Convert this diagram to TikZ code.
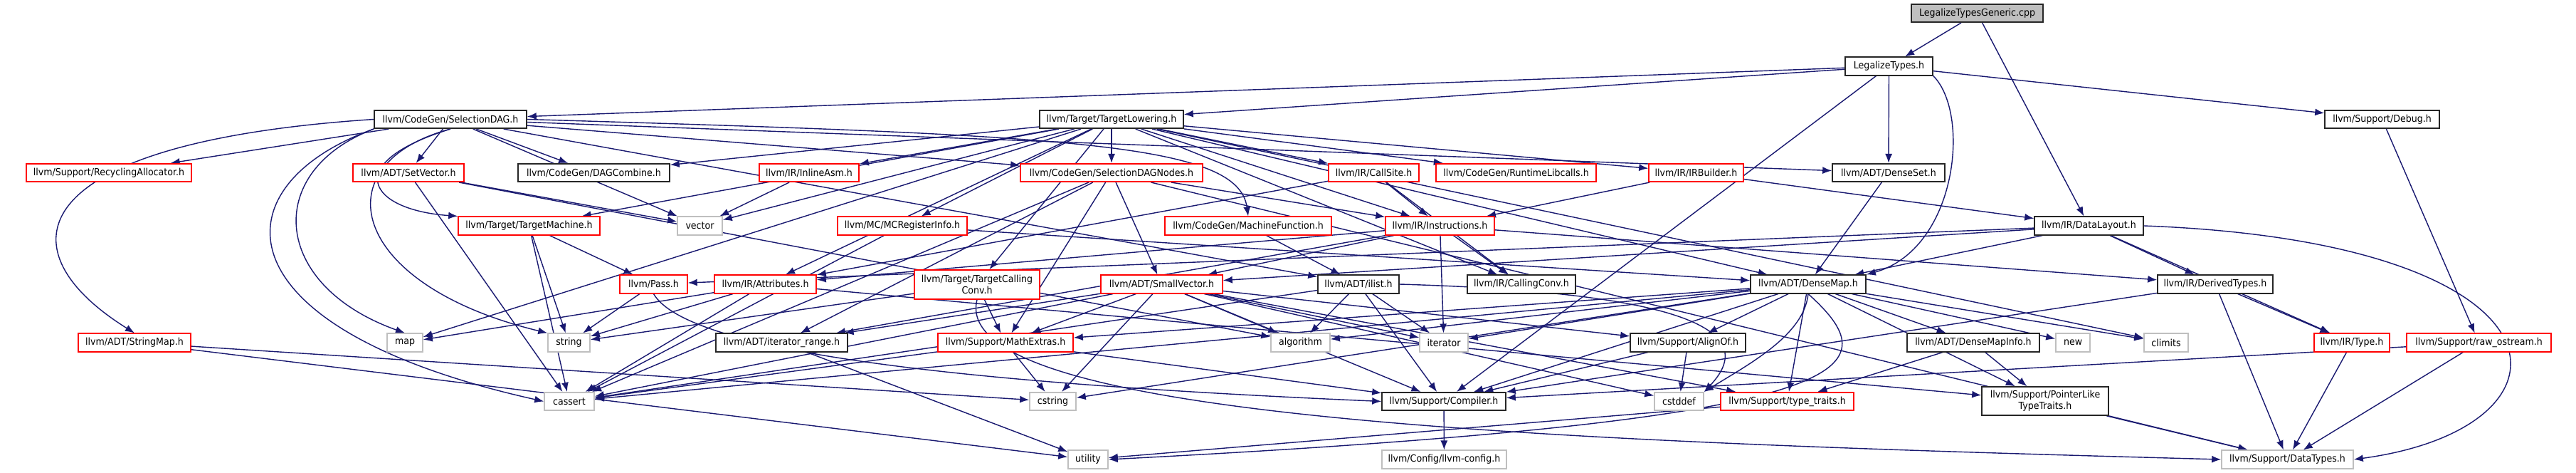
\documentclass[tikz,border=0pt]{standalone}
\usepackage{fontspec}
\setmainfont{DejaVu Sans}[FakeStretch=0.92]
\usepackage{tikz}
\usetikzlibrary{arrows.meta}
\definecolor{midnight}{HTML}{191970}
\definecolor{grey75}{HTML}{BFBFBF}
\pgfdeclarelayer{bg}
\pgfsetlayers{bg,main}

\begin{document}
\begin{tikzpicture}[
    file/.style={draw=black!85, fill=white, line width=0.45pt, minimum height=0.255cm,
      inner xsep=0.04cm, inner ysep=0pt, align=center, font=\fontsize{3.9}{4.5}\selectfont},
    trunc/.style={file, draw=red},
    ext/.style={file, draw=grey75},
    dep/.style={draw=midnight, line width=0.4pt, -{Latex[length=0.13cm,width=0.1cm]}}
  ]
    \useasboundingbox (0,0) rectangle (36.2,-6.64);
    % top rows
    \node[file, fill=grey75, minimum width=1.85cm] (cpp) at (27.785,-0.185) {LegalizeTypesGeneric.cpp};
    \node[file, minimum width=1.23cm] (LT) at (26.545,-0.93) {LegalizeTypes.h};
    \node[file, minimum width=2.14cm] (SDAG) at (6.33,-1.675) {llvm/CodeGen/SelectionDAG.h};
    \node[file, minimum width=2.02cm] (TLow) at (15.62,-1.675) {llvm/Target/TargetLowering.h};
    \node[file, minimum width=1.61cm] (Debug) at (33.475,-1.675) {llvm/Support/Debug.h};
    \node[trunc, minimum width=2.32cm] (RecAlloc) at (1.53,-2.425) {llvm/Support/RecyclingAllocator.h};
    \node[trunc, minimum width=1.56cm] (SetVec) at (5.74,-2.425) {llvm/ADT/SetVector.h};
    \node[file, minimum width=2.13cm] (DAGComb) at (8.345,-2.425) {llvm/CodeGen/DAGCombine.h};
    \node[trunc, minimum width=1.40cm] (InlineAsm) at (11.37,-2.425) {llvm/IR/InlineAsm.h};
    \node[trunc, minimum width=2.56cm] (SDNodes) at (15.62,-2.425) {llvm/CodeGen/SelectionDAGNodes.h};
    \node[trunc, minimum width=1.27cm] (CallSite) at (19.305,-2.425) {llvm/IR/CallSite.h};
    \node[trunc, minimum width=2.25cm] (RTLib) at (21.305,-2.425) {llvm/CodeGen/RuntimeLibcalls.h};
    \node[trunc, minimum width=1.33cm] (IRB) at (23.835,-2.425) {llvm/IR/IRBuilder.h};
    \node[file, minimum width=1.58cm] (DSet) at (26.54,-2.425) {llvm/ADT/DenseSet.h};
    \node[trunc, minimum width=1.99cm] (TMach) at (7.435,-3.17) {llvm/Target/TargetMachine.h};
    \node[ext, minimum width=0.63cm] (vector) at (9.835,-3.17) {vector};
    \node[trunc, minimum width=1.82cm] (MCReg) at (12.68,-3.17) {llvm/MC/MCRegisterInfo.h};
    \node[trunc, minimum width=2.34cm] (MFunc) at (17.54,-3.17) {llvm/CodeGen/MachineFunction.h};
    \node[trunc, minimum width=1.53cm] (Instr) at (20.235,-3.17) {llvm/IR/Instructions.h};
    \node[file, minimum width=1.53cm] (DL) at (29.355,-3.17) {llvm/IR/DataLayout.h};
    % middle rows
    \node[trunc, minimum width=0.95cm] (Pass) at (9.185,-3.99) {llvm/Pass.h};
    \node[trunc, minimum width=1.43cm] (Attr) at (10.755,-3.99) {llvm/IR/Attributes.h};
    \node[trunc, minimum width=1.76cm, minimum height=0.41cm] (TCC) at (13.73,-3.995) {llvm/Target/TargetCalling\\Conv.h};
    \node[trunc, minimum width=1.71cm] (SmallVec) at (16.325,-3.99) {llvm/ADT/SmallVector.h};
    \node[file, minimum width=1.14cm] (ilist) at (19.09,-3.99) {llvm/ADT/ilist.h};
    \node[file, minimum width=1.52cm] (CallConv) at (21.38,-3.99) {llvm/IR/CallingConv.h};
    \node[file, minimum width=1.62cm] (DMap) at (25.41,-3.99) {llvm/ADT/DenseMap.h};
    \node[file, minimum width=1.62cm] (DerivedTypes) at (31.13,-3.99) {llvm/IR/DerivedTypes.h};
    \node[trunc, minimum width=1.58cm] (StrMap) at (1.89,-4.81) {llvm/ADT/StringMap.h};
    \node[ext, minimum width=0.50cm] (map) at (5.69,-4.81) {map};
    \node[ext, minimum width=0.59cm] (string) at (7.995,-4.81) {string};
    \node[file, minimum width=1.85cm] (iterRange) at (10.985,-4.81) {llvm/ADT/iterator\_range.h};
    \node[trunc, minimum width=1.90cm] (MathExtras) at (14.13,-4.81) {llvm/Support/MathExtras.h};
    \node[ext, minimum width=0.83cm] (algorithm) at (18.275,-4.81) {algorithm};
    \node[ext, minimum width=0.68cm] (iterator) at (20.29,-4.81) {iterator};
    \node[file, minimum width=1.62cm] (AlignOf) at (23.72,-4.81) {llvm/Support/AlignOf.h};
    \node[file, minimum width=1.86cm] (DMapInfo) at (27.73,-4.81) {llvm/ADT/DenseMapInfo.h};
    \node[ext, minimum width=0.48cm] (new) at (29.13,-4.81) {new};
    \node[ext, minimum width=0.62cm] (climits) at (30.44,-4.81) {climits};
    \node[trunc, minimum width=1.06cm] (TypeH) at (33.05,-4.81) {llvm/IR/Type.h};
    \node[trunc, minimum width=2.03cm] (rawOS) at (34.835,-4.81) {llvm/Support/raw\_ostream.h};
    % bottom rows
    \node[ext, minimum width=0.70cm] (cassert) at (8.00,-5.635) {cassert};
    \node[ext, minimum width=0.65cm] (cstring) at (14.795,-5.635) {cstring};
    \node[file, minimum width=1.74cm] (Compiler) at (20.29,-5.635) {llvm/Support/Compiler.h};
    \node[ext, minimum width=0.69cm] (cstddef) at (23.595,-5.635) {cstddef};
    \node[trunc, minimum width=1.87cm] (typeTraits) at (25.115,-5.635) {llvm/Support/type\_traits.h};
    \node[file, minimum width=1.78cm, minimum height=0.40cm] (PtrLike) at (28.74,-5.63) {llvm/Support/PointerLike\\TypeTraits.h};
    \node[ext, minimum width=0.56cm] (utility) at (15.29,-6.45) {utility};
    \node[ext, minimum width=1.75cm] (llvmConfig) at (20.295,-6.45) {llvm/Config/llvm-config.h};
    \node[ext, minimum width=1.85cm] (DataTypes) at (32.145,-6.45) {llvm/Support/DataTypes.h};

    \begin{pgfonlayer}{bg}
    \foreach \src/\dst in {cpp/LT, cpp/DL,
        LT/SDAG, LT/TLow, LT/Debug, LT/DSet, LT/Compiler,
        SDAG/RecAlloc, SDAG/SetVec, SDAG/DAGComb, SDAG/vector, SDAG/DSet,
        SDAG/SDNodes, SDAG/ilist,
        TLow/DAGComb, TLow/TMach, TLow/map, TLow/vector, TLow/InlineAsm, TLow/SDNodes,
        TLow/MCReg, TLow/Attr, TLow/TCC, TLow/CallSite, TLow/RTLib, TLow/IRB, TLow/DMap,
        TLow/CallConv, TLow/climits, TLow/Instr,
        Debug/rawOS, DSet/DMap,
        SetVec/vector, SetVec/algorithm, SetVec/cassert, InlineAsm/vector,
        SDNodes/SmallVec, SDNodes/iterRange, SDNodes/Instr, SDNodes/MathExtras,
        SDNodes/cassert, SDNodes/DataTypes,
        CallSite/Attr, CallSite/CallConv, CallSite/Instr, IRB/Instr, IRB/DL,
        TMach/Pass, TMach/string, TMach/cassert, MCReg/DMap, MCReg/cassert, MFunc/ilist,
        Instr/Attr, Instr/iterRange, Instr/CallConv, Instr/DerivedTypes, Instr/iterator,
        Instr/SmallVec,
        DL/DMap, DL/SmallVec, DL/DerivedTypes, DL/TypeH, DL/Pass,
        Pass/string,
        Attr/map, Attr/string, Attr/cassert, Attr/PtrLike,
        TCC/string, TCC/MathExtras,
        SmallVec/iterRange, SmallVec/MathExtras, SmallVec/cstring, SmallVec/Compiler,
        SmallVec/algorithm, SmallVec/iterator, SmallVec/AlignOf, SmallVec/cstddef,
        SmallVec/typeTraits, SmallVec/cassert,
        ilist/algorithm, ilist/iterator, ilist/Compiler, ilist/cassert,
        DMap/AlignOf, DMap/typeTraits, DMap/DMapInfo, DMap/new, DMap/climits,
        DMap/PtrLike, DMap/algorithm, DMap/iterator, DMap/Compiler, DMap/MathExtras,
        DMap/cassert, DMap/cstring,
        DerivedTypes/TypeH, DerivedTypes/DataTypes, DerivedTypes/Compiler,
        StrMap/cstring, StrMap/utility, iterRange/utility,
        MathExtras/cstring, MathExtras/cassert, MathExtras/Compiler,
        AlignOf/cstddef, AlignOf/Compiler, DMapInfo/PtrLike, DMapInfo/typeTraits,
        typeTraits/utility, TypeH/DataTypes, rawOS/DataTypes, rawOS/Compiler,
        PtrLike/DataTypes, Compiler/llvmConfig}{
      \draw[dep] (\src) -- (\dst);
    }
    % the long curved ones
    \draw[dep] (LT.south east) .. controls (27.7,-1.6) and (27.5,-3.5) .. (DMap.north east);
    \draw[dep] (SDAG.west) .. controls (0.3,-2.0) and (0.0,-3.5) .. (StrMap.north);
    \draw[dep] (SDAG.south west) .. controls (3.05,-2.6) and (3.0,-4.6) .. (cassert.west);
    \draw[dep] (SDAG.south west) .. controls (3.7,-2.4) and (3.8,-4.0) .. (map.north);
    \draw[dep] (SDAG.south) .. controls (4.5,-2.3) and (4.9,-4.0) .. (string.north west);
    \draw[dep] (SDAG.south) .. controls (4.75,-2.3) and (5.2,-2.95) .. (TMach.north west);
    \draw[dep] (SDAG.east) .. controls (15,-1.9) and (17.4,-2.0) .. (MFunc.north);
    \draw[dep] (Pass.south) .. controls (9.7,-5.0) and (14,-5.4) .. (Compiler.west);
    \draw[dep] (ilist.east) .. controls (23.5,-4.1) and (24.8,-4.6) .. (cstddef.north east);
    \draw[dep] (DMap.south) .. controls (25.35,-4.7) and (24.6,-5.1) .. (cstddef.north east);
    \draw[dep] (DL.east) .. controls (36.3,-3.4) and (36.4,-6.0) .. (DataTypes.east);
    \draw[dep] (TCC.south) .. controls (13.3,-5.9) and (22,-6.2) .. (DataTypes.west);
    \draw[dep] (DMap.south) .. controls (26.6,-5.2) and (26.3,-5.9) .. (utility.east);
    \end{pgfonlayer}
\end{tikzpicture}
\end{document}
